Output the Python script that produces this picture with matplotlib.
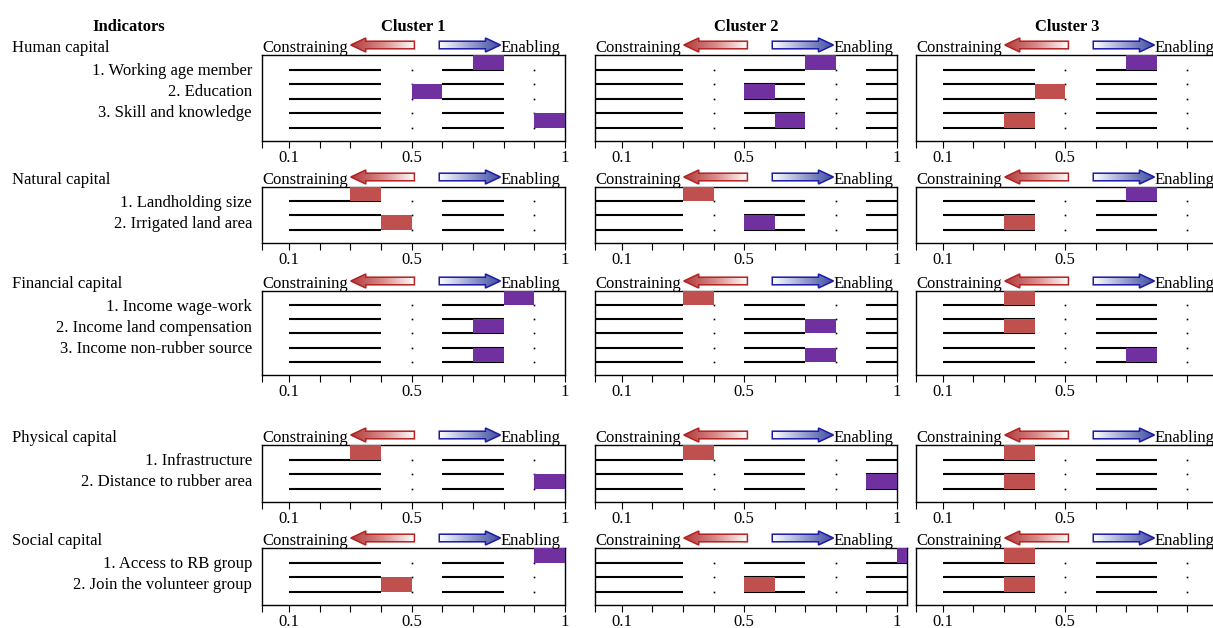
import numpy as np
import matplotlib
matplotlib.use("Agg")
import matplotlib.pyplot as plt
from matplotlib.patches import Polygon
from matplotlib.colors import LinearSegmentedColormap

plt.rcParams['font.family'] = ['Liberation Serif', 'DejaVu Serif']
plt.rcParams['font.size'] = 12

W, H = 1213, 628

clusters = ['Cluster 1', 'Cluster 2', 'Cluster 3']
groups = ['Human capital', 'Natural capital', 'Financial capital',
          'Physical capital', 'Social capital']

human_items = ['1. Working age member', '2. Education', '3. Skill and knowledge']
natural_items = ['1. Landholding size', '2. Irrigated land area']
financial_items = ['1. Income wage-work', '2. Income land compensation',
                   '3. Income non-rubber source']
physical_items = ['1. Infrastructure', '2. Distance to rubber area']
social_items = ['1. Access to RB group', '2. Join the volunteer group']

# start of each 0.1-wide bar, one list per cluster
human_score = [[0.7, 0.5, 0.9], [0.7, 0.5, 0.6], [0.7, 0.4, 0.3]]
natural_score = [[0.3, 0.4], [0.3, 0.5], [0.7, 0.3]]
financial_score = [[0.8, 0.7, 0.7], [0.3, 0.7, 0.7], [0.3, 0.3, 0.7]]
physical_score = [[0.3, 0.9], [0.3, 0.9], [0.3, 0.3]]
social_score = [[0.9, 0.4], [1.0, 0.5], [0.3, 0.3]]

# E = enabling, C = constraining
human_effect = [['E', 'E', 'E'], ['E', 'E', 'E'], ['E', 'C', 'C']]
natural_effect = [['C', 'C'], ['C', 'E'], ['E', 'C']]
financial_effect = [['E', 'E', 'E'], ['C', 'E', 'E'], ['C', 'C', 'E']]
physical_effect = [['C', 'E'], ['C', 'E'], ['C', 'C']]
social_effect = [['E', 'C'], ['E', 'C'], ['C', 'C']]

items = [human_items, natural_items, financial_items, physical_items, social_items]
scores = [human_score, natural_score, financial_score, physical_score, social_score]
effects = [human_effect, natural_effect, financial_effect, physical_effect, social_effect]

ticks = np.round(np.arange(1, 11) / 10, 1)
tick_labels = ['0.1', '', '', '', '0.5', '', '', '', '', '1']

bar_col = {'E': '#7030A0', 'C': '#C0504D'}

# guide lines in the source (cluster 2 is shifted one step)
segs = [[(0.1, 0.4), (0.6, 0.8)], [(0.0, 0.3), (0.5, 0.7), (0.9, 1.1)], [(0.1, 0.4), (0.6, 0.8)]]
dots = [[0.5, 0.9], [0.4, 0.8], [0.5, 0.9]]

# layout in pixels
col_left = [262, 595, 916]
col_width = [303, 302, 302]
row_top = [55, 187, 291, 445, 548]
row_height = [86, 56, 84, 57, 57]
x0 = 0.012

fig = plt.figure(figsize=(W / 100, H / 100), dpi=100)
fig.patch.set_facecolor('white')

ov = fig.add_axes([0, 0, 1, 1], zorder=10)
ov.axis('off')

red_cmap = LinearSegmentedColormap.from_list('r', ['#B23A3A', '#D98C8C', '#FFFFFF'])
blue_cmap = LinearSegmentedColormap.from_list('b', ['#FFFFFF', '#9CA3D0', '#3E4BA0'])


def grad_arrow(tip, tail, yc, cmap, edge):
    hl, hh, sh = 15, 7, 3.8
    d = 1 if tail > tip else -1
    hb = tip + d * hl
    pts = [(tip, yc), (hb, yc - hh), (hb, yc - sh), (tail, yc - sh),
           (tail, yc + sh), (hb, yc + sh), (hb, yc + hh)]
    poly = Polygon(pts, closed=True, fc='none', ec=edge, lw=1.1, zorder=3)
    ov.add_patch(poly)
    grad = np.linspace(0, 1, 256).reshape(1, -1)
    im = ov.imshow(grad, cmap=cmap, extent=(min(tip, tail), max(tip, tail), yc + hh, yc - hh),
                   aspect='auto', zorder=2, interpolation='bilinear')
    im.set_clip_path(poly)


for gi, group in enumerate(groups):
    n = len(items[gi])
    t, h = row_top[gi], row_height[gi]
    ov.text(12, t - 3, group, ha='left', va='baseline')
    for k, lab in enumerate(items[gi]):
        ov.text(252, t + 20 + 21 * k, lab, ha='right', va='baseline')

    for ci in range(3):
        l, w = col_left[ci], col_width[ci]
        xr = 1.0
        if gi == 4 and ci == 1:  # this panel is a bit wider in the source
            w += 10
            xr = 1.033
        ax = fig.add_axes([l / W, 1 - (t + h) / H, w / W, h / H])
        ax.set_xlim(x0, xr)
        ax.set_ylim(2 * n - 0.07, 0)

        for y in range(1, 2 * n):
            for a, b in segs[ci]:
                ax.plot([a, b], [y, y], color='black', lw=1.5, solid_capstyle='butt', zorder=1)
            ax.plot(dots[ci], [y] * len(dots[ci]), ls='none', marker='s', ms=1.2,
                    mew=0, color='black', zorder=1)

        for i, (s, e) in enumerate(zip(scores[gi][ci], effects[gi][ci])):
            ax.barh(2 * i + 0.5, 0.1, left=s, height=1.0, color=bar_col[e], zorder=3)

        ax.set_xticks([x0] + list(ticks))
        ax.set_xticklabels([''] + tick_labels)
        ax.set_yticks([])
        ax.tick_params(axis='x', direction='out', length=5, width=0.8, pad=1.5, labelsize=12)
        for sp in ax.spines.values():
            sp.set_linewidth(1.0)

        # direction legend above the panel
        ov.text(l, t - 3, 'Constraining', ha='left', va='baseline', zorder=4)
        grad_arrow(l + 0.293 * 303, l + 0.503 * 303, t - 10, red_cmap, '#B22222')
        grad_arrow(l + 0.787 * 303, l + 0.585 * 303, t - 10, blue_cmap, '#1A1AA6')
        ov.text(l + 0.787 * 303, t - 3, 'Enabling', ha='left', va='baseline', zorder=4)

        if gi == 0:
            ov.text(l + 151, 31, clusters[ci], ha='center', va='baseline', fontweight='bold')

ov.text(129, 31, 'Indicators', ha='center', va='baseline', fontweight='bold')

ov.set_xlim(0, W)
ov.set_ylim(H, 0)

fig.savefig('out.png', dpi=100)
